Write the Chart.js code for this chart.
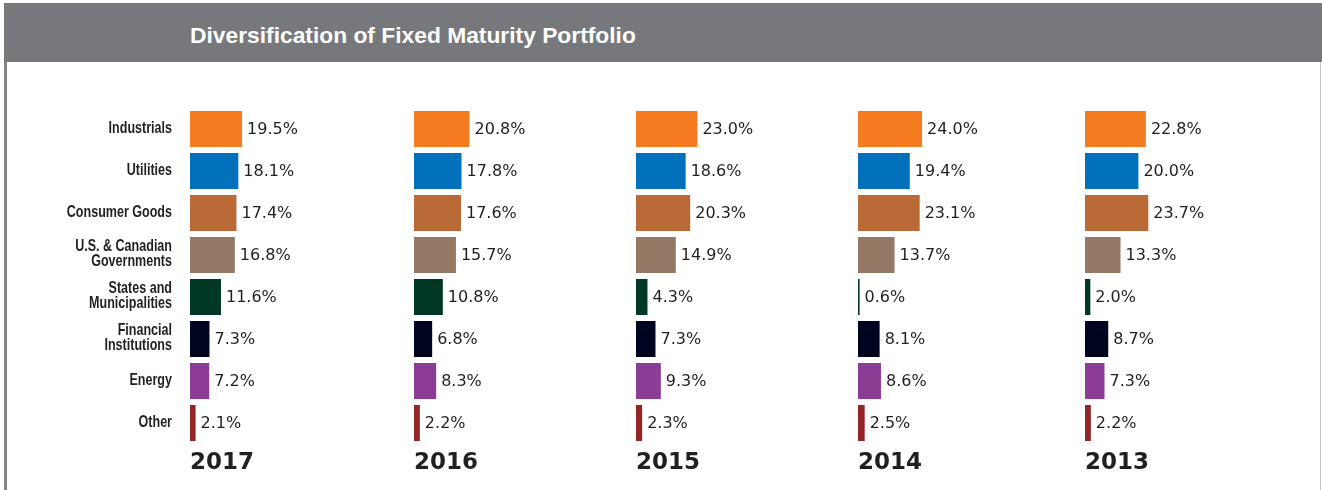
<!DOCTYPE html>
<html>
<head>
<meta charset="utf-8">
<script src="https://cdn.jsdelivr.net/npm/chart.js@4"></script>
<style>
    body { margin: 0; background: #fff; width: 1322px; height: 490px; overflow: hidden; position: relative; }
    .header {
        position: absolute; left: 4px; top: 3px; width: 1318px; height: 59px;
        background: #77787c; color: #fff;
        font: bold 22.8px "Liberation Sans", Arial, sans-serif;
        line-height: 65px; box-sizing: border-box; padding-left: 186px;
    }
    .leftLine { position: absolute; left: 4px; top: 62px; width: 3px; height: 428px; background: #858589; }
    .rightLine { position: absolute; left: 1320px; top: 62px; width: 1px; height: 428px; background: #c4c4c4; }
    .panel { position: absolute; top: 108px; height: 382px; }
</style>
</head>
<body>
<div class="header">Diversification of Fixed Maturity Portfolio</div>
<div class="leftLine"></div>
<div class="rightLine"></div>
<div class="panel" style="left:0px;width:400px"><canvas id="c2017"></canvas></div>
<div class="panel" style="left:414px;width:210px"><canvas id="c2016"></canvas></div>
<div class="panel" style="left:636px;width:210px"><canvas id="c2015"></canvas></div>
<div class="panel" style="left:858px;width:210px"><canvas id="c2014"></canvas></div>
<div class="panel" style="left:1085px;width:210px"><canvas id="c2013"></canvas></div>
<script>
const categories = [
    "Industrials",
    "Utilities",
    "Consumer Goods",
    ["U.S. & Canadian", "Governments"],
    ["States and", "Municipalities"],
    ["Financial", "Institutions"],
    "Energy",
    "Other"
];
const years = ["2017", "2016", "2015", "2014", "2013"];
const values2017 = [19.5, 18.1, 17.4, 16.8, 11.6, 7.3, 7.2, 2.1];
const values2016 = [20.8, 17.8, 17.6, 15.7, 10.8, 6.8, 8.3, 2.2];
const values2015 = [23.0, 18.6, 20.3, 14.9, 4.3, 7.3, 9.3, 2.3];
const values2014 = [24.0, 19.4, 23.1, 13.7, 0.6, 8.1, 8.6, 2.5];
const values2013 = [22.8, 20.0, 23.7, 13.3, 2.0, 8.7, 7.3, 2.2];
const barColors = ["#f47b20", "#0071ba", "#b96a37", "#937865", "#003825", "#00051f", "#8b3d96", "#922624"];

const seriesByYear = {
    "2017": values2017,
    "2016": values2016,
    "2015": values2015,
    "2014": values2014,
    "2013": values2013
};

// pixels per percentage point, same for every panel
const pxPerPct = 2.67;
const labelAxisWidth = 190;
const plotWidth = 210;

/**
 * Draw the value label to the right of each bar.
 */
const valueLabels = {
    id: "valueLabels",
    afterDatasetsDraw(chart) {
        const ctx = chart.ctx;
        const meta = chart.getDatasetMeta(0);
        const data = chart.data.datasets[0].data;
        ctx.save();
        ctx.font = "16px 'DejaVu Sans', sans-serif";
        ctx.fillStyle = "#231f20";
        ctx.textAlign = "left";
        ctx.textBaseline = "middle";
        meta.data.forEach(function(bar, i) {
            ctx.fillText(data[i].toFixed(1) + "%", bar.x + 5, bar.y + 1);
        });
        ctx.restore();
    }
};

/**
 * Category names on the left, in a condensed bold face.
 */
const categoryLabels = {
    id: "categoryLabels",
    afterDraw(chart) {
        const ctx = chart.ctx;
        const yScale = chart.scales.y;
        const right = chart.chartArea.left - 18;
        const lineHeight = 15;
        ctx.save();
        ctx.font = "bold 16.5px 'Liberation Sans', Arial, sans-serif";
        ctx.fillStyle = "#231f20";
        ctx.textAlign = "right";
        ctx.textBaseline = "middle";
        categories.forEach(function(label, i) {
            const lines = Array.isArray(label) ? label : [label];
            const yMid = yScale.getPixelForValue(i);
            lines.forEach(function(line, j) {
                const y = yMid - 1 + (j - (lines.length - 1) / 2) * lineHeight;
                ctx.save();
                ctx.translate(right, y);
                ctx.scale(0.76, 1);
                ctx.fillText(line, 0, 0);
                ctx.restore();
            });
        });
        ctx.restore();
    }
};

/**
 * Build one year's panel.
 */
function initPanel(year, showCategories) {
    const values = seriesByYear[year];
    const plugins = [valueLabels];
    if (showCategories) {
        plugins.push(categoryLabels);
    }
    new Chart(document.getElementById("c" + year), {
        type: "bar",
        data: {
            labels: categories,
            datasets: [{
                data: values,
                backgroundColor: barColors,
                barPercentage: 1,
                categoryPercentage: 36 / 42
            }]
        },
        options: {
            indexAxis: "y",
            responsive: true,
            maintainAspectRatio: false,
            animation: false,
            layout: { padding: { left: showCategories ? labelAxisWidth : 0, top: 0, right: 0, bottom: 0 } },
            plugins: {
                legend: { display: false },
                tooltip: { enabled: false }
            },
            scales: {
                x: {
                    min: 0,
                    max: plotWidth / pxPerPct,
                    grid: { display: false, drawTicks: false },
                    border: { display: false },
                    ticks: { display: false },
                    title: {
                        display: true,
                        text: year,
                        align: "start",
                        color: "#231f20",
                        font: { family: "'DejaVu Sans', sans-serif", size: 23, weight: "bold" },
                        padding: { top: 0, bottom: 13 }
                    },
                    afterFit(scale) { scale.height = 46; }
                },
                y: {
                    display: false
                }
            }
        },
        plugins: plugins
    });
}

years.forEach(function(year, i) {
    initPanel(year, i === 0);
});
</script>
</body>
</html>
